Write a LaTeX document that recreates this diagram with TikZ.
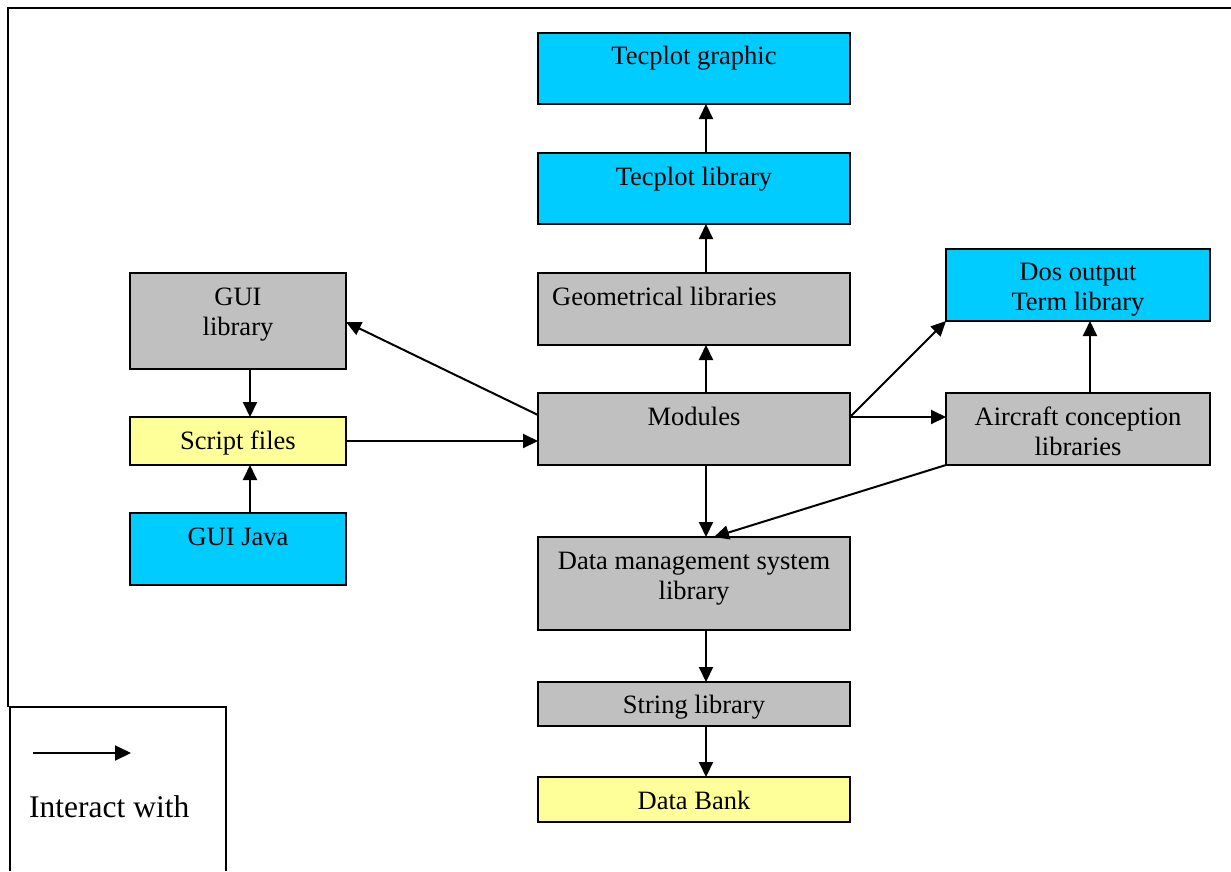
\documentclass[tikz,border=0pt]{standalone}
\usepackage{fontspec}
\setmainfont{Liberation Serif}
\usetikzlibrary{arrows.meta,calc}

\definecolor{libcyan}{HTML}{00CCFF}
\definecolor{libgray}{HTML}{C0C0C0}
\definecolor{libyellow}{HTML}{FFFF99}

\tikzset{
  box/.style={draw=black, line width=2.1pt, fill=#1, anchor=north west,
    inner sep=0pt, outer sep=0pt},
  lbl/.style={anchor=base, inner sep=0pt, font=\fontsize{26.5}{30}\selectfont},
  link/.style={line width=2pt, -{Triangle[length=15pt,width=14pt]}},
}

\begin{document}
\begin{tikzpicture}[x=1pt, y=-1pt]
  \useasboundingbox (0,0) rectangle (1231,871);

  % frame
  \draw[line width=2.8pt] (1231,8) -- (8,8) -- (8,707);

  % boxes
  \node[box=libcyan, minimum width=312pt, minimum height=71pt] (tg) at (538,33) {};
  \node[box=libcyan, minimum width=312pt, minimum height=71pt] (tl) at (538,153) {};
  \node[box=libgray, minimum width=312pt, minimum height=72pt] (geo) at (538,273) {};
  \node[box=libgray, minimum width=312pt, minimum height=72pt] (mod) at (538,393) {};
  \node[box=libgray, minimum width=312pt, minimum height=93pt] (dms) at (538,537) {};
  \node[box=libgray, minimum width=312pt, minimum height=44pt] (str) at (538,682) {};
  \node[box=libyellow, minimum width=312pt, minimum height=45pt] (bank) at (538,777) {};

  \node[box=libgray, minimum width=216pt, minimum height=96pt] (gui) at (130,273) {};
  \node[box=libyellow, minimum width=216pt, minimum height=48pt] (scr) at (130,417) {};
  \node[box=libcyan, minimum width=216pt, minimum height=72pt] (java) at (130,513) {};

  \node[box=libcyan, minimum width=264pt, minimum height=72pt] (dos) at (946,249) {};
  \node[box=libgray, minimum width=264pt, minimum height=72pt] (air) at (946,393) {};

  % texts
  \node[lbl] (tgt) at (694,64) {Tecplot graphic};
  \node[lbl] (tlt) at (694,185) {Tecplot library};
  \node[lbl, anchor=base west] (geot) at (552,305) {Geometrical libraries};
  \node[lbl] (modt) at (694,425) {Modules};
  \node[lbl] (dmst1) at (694,569) {Data management system};
  \node[lbl] (dmst2) at (694,599) {library};
  \node[lbl] (strt) at (694,713) {String library};
  \node[lbl] (bankt) at (694,809) {Data Bank};
  \node[lbl] (guit1) at (238,305) {GUI};
  \node[lbl] (guit2) at (238,335) {library};
  \node[lbl] (scrt) at (238,449) {Script files};
  \node[lbl] (javat) at (238,545) {GUI Java};
  \node[lbl] (dost1) at (1078,280) {Dos output};
  \node[lbl] (dost2) at (1078,310) {Term library};
  \node[lbl] (airt1) at (1078,425) {Aircraft conception};
  \node[lbl] (airt2) at (1078,455) {libraries};

  % connectors
  \draw[link] ([xshift=12pt]tl.north) -- ([xshift=12pt]tg.south);
  \draw[link] ([xshift=12pt]geo.north) -- ([xshift=12pt]tl.south);
  \draw[link] ([xshift=12pt]mod.north) -- ([xshift=12pt]geo.south);
  \draw[link] ([xshift=12pt]mod.south) -- ([xshift=12pt]dms.north);
  \draw[link] ([xshift=12pt]dms.south) -- ([xshift=12pt]str.north);
  \draw[link] ([xshift=12pt]str.south) -- ([xshift=12pt]bank.north);
  \draw[link] ([xshift=12pt]gui.south) -- ([xshift=12pt]scr.north);
  \draw[link] ([xshift=12pt]java.north) -- ([xshift=12pt]scr.south);
  \draw[link] (scr.east) -- (scr.east -| mod.west);
  \draw[link] ([yshift=-22pt]mod.north west) -- ([yshift=-49pt]gui.north east);
  \draw[link] ([yshift=-24pt]mod.north east) -- ([yshift=-24pt]air.north west);
  \draw[link] ([yshift=-24pt]mod.north east) -- (dos.south west);
  \draw[link] ([xshift=12pt]air.north) -- ([xshift=12pt]dos.south);
  \draw[link] (air.south west) -- ([xshift=20pt]dms.north);

  % legend
  \draw[line width=2.2pt] (10,871) -- (10,707) -- (226,707) -- (226,871);
  \coordinate (lega) at (33,753);
  \coordinate (legb) at (131,753);
  \draw[line width=2pt, -{Triangle[length=16pt,width=15pt]}] (lega) -- (legb);
  \node[anchor=base west, inner sep=0pt, font=\fontsize{31.5}{36}\selectfont] (legt) at (29,817) {Interact with};
\end{tikzpicture}
\end{document}
